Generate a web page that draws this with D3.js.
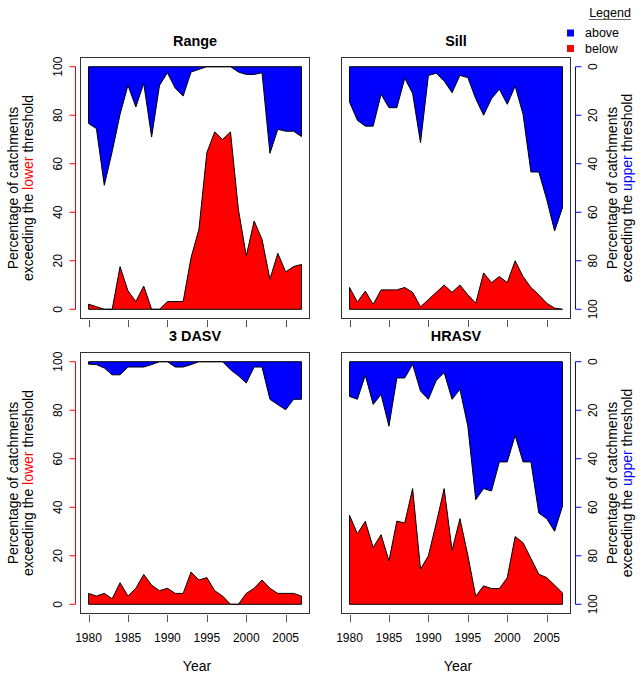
<!DOCTYPE html>
<html>
<head>
<meta charset="utf-8">
<script src="https://cdn.jsdelivr.net/npm/d3@7/dist/d3.min.js"></script>
<style>
  html, body { margin: 0; padding: 0; background: #fff; }
  svg { display: block; font-family: "Liberation Sans", Arial, Helvetica, sans-serif; }
</style>
</head>
<body>
<svg id="chart" width="644" height="673"></svg>
<script>
// ---- data ----
const years = [1980,1981,1982,1983,1984,1985,1986,1987,1988,1989,1990,1991,1992,1993,
               1994,1995,1996,1997,1998,1999,2000,2001,2002,2003,2004,2005,2006,2007];
const xTickYears = [1980,1985,1990,1995,2000,2005];
const yTicks = [0,20,40,60,80,100];
const panelTitles = ["Range","Sill","3 DASV","HRASV"];
const legendLabels = ["above","below"];
const legendColors = ["#0000FF","#FF0000"];

// "above": % of catchments exceeding the upper threshold (read on the right, reversed axis)
// "below": % of catchments on the lower-threshold axis (read on the left axis)
const rangeAbove = [23.4,25.5,48.9,35,19.6,7.7,16.6,6.9,29,7.7,2.5,8.9,12.1,2.2,1.1,0,0,0,0,2.2,3.2,3.2,2.5,35.7,25.8,26.6,26.6,28.8];
const rangeBelow = [2.1,1.1,0,0,17.6,7.6,3.2,9.6,0,0,3.2,3.2,3.2,21.3,33,64.6,73.1,70,73.1,41.2,22,36.4,28.8,12.4,23.1,15.4,17.6,18.5];

const sillAbove = [14.6,22.1,24.5,24.5,11.4,16.9,16.9,4.8,11,31.3,3.6,2.7,5.9,10.7,3.6,4.5,13.2,20,13.2,9.3,15.5,8,19.6,43.4,43.4,54.7,67.7,58.1];
const sillBelow = [9,3,7.5,2,8,8,8,9,7,1,4,7,10,7,10,6,2.5,15,11,13.5,11,20,13.5,9,6,2.5,0.5,0];

const dasvAbove = [1,1.2,2.6,5.4,5.4,2.2,2.2,2.2,1.2,0,0,2.2,2.2,1.2,0,0,0,0,3.3,5.8,8.8,2.2,2.2,15.5,17.7,19.8,15.5,15.5];
const dasvBelow = [4.5,3.4,4.5,2.3,8.9,3.4,6.6,12.3,7.9,5.6,6.6,4.5,4.5,13.3,10,11,5.6,3.4,0,0,4.5,6.6,10,6.6,4.5,4.5,4.5,3.4];

const hrasvAbove = [14.3,15.5,5.6,17.6,13.5,26.6,6.7,6.7,1.1,12.1,15.5,7.7,4.5,15.5,11.4,26.6,56.9,52.3,53.3,41.3,41.3,30.4,41.3,41.3,62.4,64.7,69.9,59.6];
const hrasvBelow = [36.7,29.1,34.2,23.4,28.7,17.9,34.3,33.5,47.7,14.5,20,33.5,47.7,22.3,35.3,20.2,3.3,7.6,6.5,6.5,11,27.9,25.4,18.9,12.4,11,7.9,4.7];

// ---- layout ----
const svg = d3.select("#chart");
const colX = [80, 341];
const rowY = [57, 352];
const W = 230, H = 262;
const font = 12;
const labFont = 14;

const panels = [
  {title: panelTitles[0], above: rangeAbove, below: rangeBelow, c: 0, r: 0},
  {title: panelTitles[1], above: sillAbove,  below: sillBelow,  c: 1, r: 0},
  {title: panelTitles[2], above: dasvAbove,  below: dasvBelow,  c: 0, r: 1},
  {title: panelTitles[3], above: hrasvAbove, below: hrasvBelow, c: 1, r: 1}
];

const pad = (years[years.length-1] - years[0]) * 0.04;

panels.forEach(p => {
  const x0 = colX[p.c], y0 = rowY[p.r];
  const x = d3.scaleLinear().domain([years[0]-pad, years[years.length-1]+pad]).range([x0, x0+W]);
  const yLo = d3.scaleLinear().domain([-4, 104]).range([y0+H, y0]);
  const yUp = d3.scaleLinear().domain([-4, 104]).range([y0, y0+H]);
  const g = svg.append("g");

  // below (red), from the bottom
  const belowPts = [[years[0], 0], ...years.map((yr,i) => [yr, p.below[i]]), [years[years.length-1], 0]];
  g.append("path")
    .attr("d", d3.line().x(d => x(d[0])).y(d => yLo(d[1]))(belowPts) + "Z")
    .attr("fill", "#FF0000").attr("stroke", "#000").attr("stroke-width", 1)
    .attr("stroke-linejoin", "miter");

  // above (blue), from the top on reversed axis
  const abovePts = [[years[0], 0], ...years.map((yr,i) => [yr, p.above[i]]), [years[years.length-1], 0]];
  g.append("path")
    .attr("d", d3.line().x(d => x(d[0])).y(d => yUp(d[1]))(abovePts) + "Z")
    .attr("fill", "#0000FF").attr("stroke", "#000").attr("stroke-width", 1)
    .attr("stroke-linejoin", "miter");

  // box
  g.append("rect").attr("x", x0 + 0.5).attr("y", y0 + 0.5).attr("width", W - 1).attr("height", H - 1)
    .attr("fill", "none").attr("stroke", "#333").attr("stroke-width", 1);

  // title
  g.append("text").attr("x", x0 + W/2).attr("y", y0 - 11)
    .attr("text-anchor", "middle").attr("font-weight", "bold").attr("font-size", 14.4)
    .text(p.title);

  // x axis ticks
  const xa = g.append("g");
  xTickYears.forEach(t => {
    xa.append("line").attr("x1", Math.round(x(t)) + 0.5).attr("x2", Math.round(x(t)) + 0.5)
      .attr("y1", y0+H+1).attr("y2", y0+H+8)
      .attr("stroke", "#555").attr("stroke-width", 1);
  });
  if (p.r === 1) {
    xTickYears.forEach(t => {
      xa.append("text").attr("x", x(t)).attr("y", y0+H+28).attr("text-anchor", "middle")
        .attr("font-size", font).text(t);
    });
    xa.append("text").attr("x", x0 + W/2 + 2).attr("y", 671).attr("text-anchor", "middle")
      .attr("font-size", labFont).text("Year");
  }

  // y axis
  if (p.c === 0) {
    const ax = x0 - 4.5;
    const ya = g.append("g");
    ya.append("line").attr("x1", ax).attr("x2", ax).attr("y1", yLo(0)).attr("y2", yLo(100))
      .attr("stroke", "#FF0000").attr("stroke-width", 1);
    yTicks.forEach(t => {
      ya.append("line").attr("x1", ax-6).attr("x2", ax).attr("y1", yLo(t)).attr("y2", yLo(t))
        .attr("stroke", "#FF0000").attr("stroke-width", 1);
      ya.append("text").attr("transform", `translate(58,${yLo(t)}) rotate(-90)`)
        .attr("dy", "0.35em").attr("text-anchor", "middle").attr("font-size", font).text(t);
    });
    const cy = y0 + H/2;
    g.append("text").attr("transform", `translate(13,${cy}) rotate(-90)`)
      .attr("dy", "0.35em").attr("text-anchor", "middle").attr("font-size", labFont)
      .text("Percentage of catchments");
    const t2 = g.append("text").attr("transform", `translate(28,${cy}) rotate(-90)`)
      .attr("dy", "0.35em").attr("text-anchor", "middle").attr("font-size", labFont);
    t2.append("tspan").text("exceeding the ");
    t2.append("tspan").attr("fill", "#FF0000").text("lower");
    t2.append("tspan").text(" threshold");
  } else {
    const ax = x0 + W + 4.5;
    const ya = g.append("g");
    ya.append("line").attr("x1", ax).attr("x2", ax).attr("y1", yUp(0)).attr("y2", yUp(100))
      .attr("stroke", "#0000FF").attr("stroke-width", 1);
    yTicks.forEach(t => {
      ya.append("line").attr("x1", ax).attr("x2", ax+6).attr("y1", yUp(t)).attr("y2", yUp(t))
        .attr("stroke", "#0000FF").attr("stroke-width", 1);
      ya.append("text").attr("transform", `translate(593,${yUp(t)}) rotate(-90)`)
        .attr("dy", "0.35em").attr("text-anchor", "middle").attr("font-size", font).text(t);
    });
    const cy = y0 + H/2;
    g.append("text").attr("transform", `translate(612,${cy}) rotate(-90)`)
      .attr("dy", "0.35em").attr("text-anchor", "middle").attr("font-size", labFont)
      .text("Percentage of catchments");
    const t2 = g.append("text").attr("transform", `translate(627,${cy}) rotate(-90)`)
      .attr("dy", "0.35em").attr("text-anchor", "middle").attr("font-size", labFont);
    t2.append("tspan").text("exceeding the ");
    t2.append("tspan").attr("fill", "#0000FF").text("upper");
    t2.append("tspan").text(" threshold");
  }
});

// ---- legend ----
const lg = svg.append("g");
lg.append("text").attr("x", 610).attr("y", 17).attr("text-anchor", "middle")
  .attr("font-size", 12.5).text("Legend");
lg.append("line").attr("x1", 589).attr("x2", 631).attr("y1", 19.5).attr("y2", 19.5)
  .attr("stroke", "#666").attr("stroke-width", 1);
legendLabels.forEach((lab, i) => {
  const cy = 33 + i*15.5;
  lg.append("rect").attr("x", 567).attr("y", cy-3.5).attr("width", 7).attr("height", 7)
    .attr("fill", legendColors[i]);
  lg.append("text").attr("x", 585).attr("y", cy).attr("dy", "0.35em")
    .attr("font-size", 12.5).text(lab);
});
</script>
</body>
</html>
